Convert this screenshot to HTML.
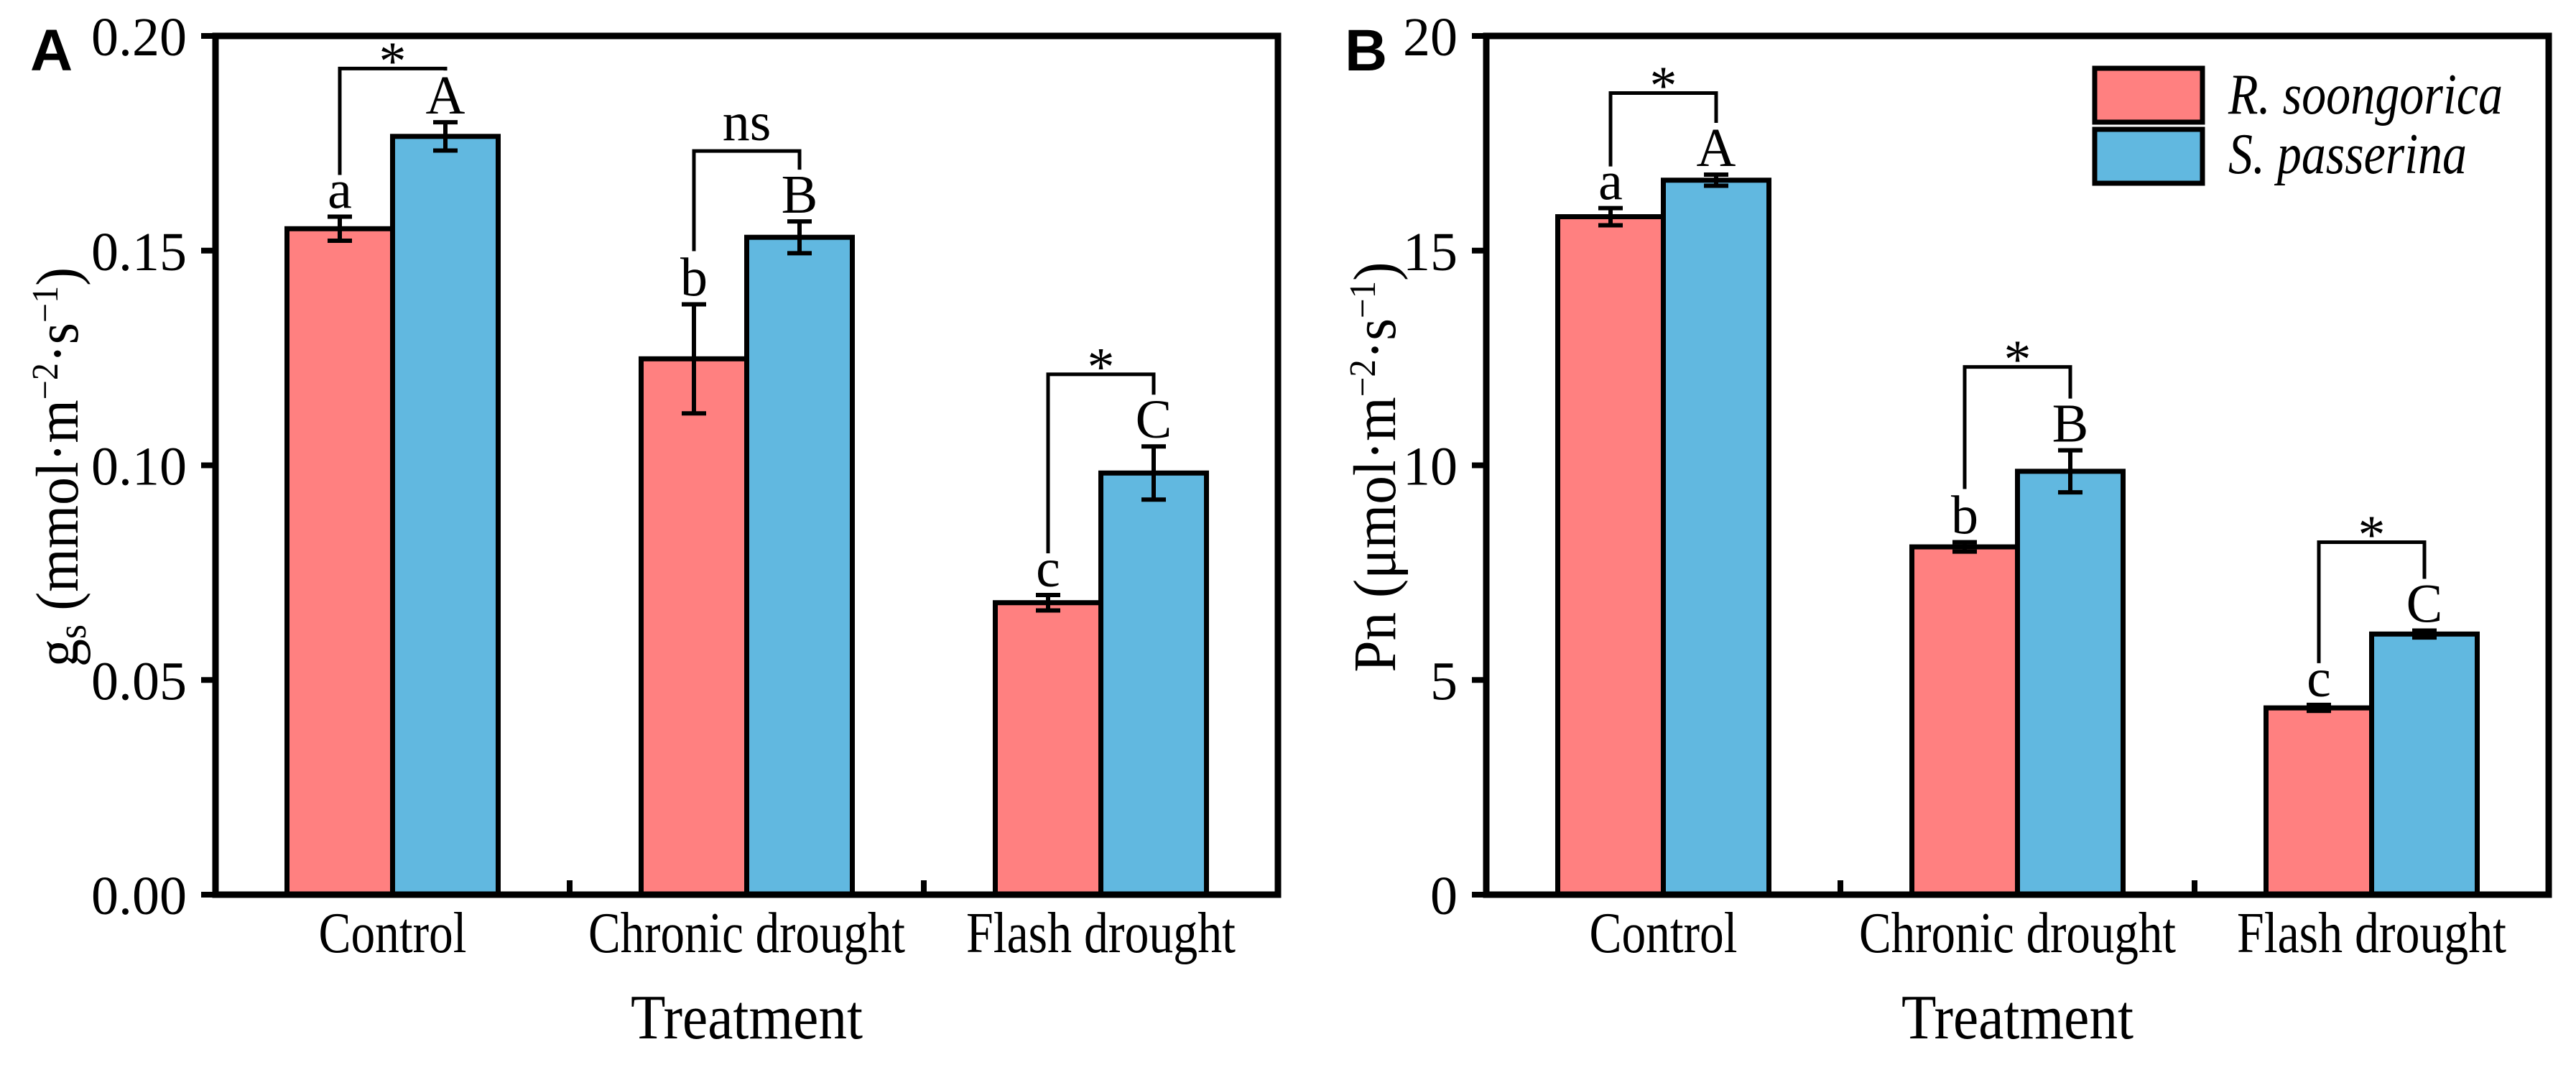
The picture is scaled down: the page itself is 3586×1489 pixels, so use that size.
<!DOCTYPE html>
<html><head><meta charset="utf-8"><style>
html,body{margin:0;padding:0;background:#fff;}
svg text{font-family:"Liberation Serif",serif;fill:#000;}
</style></head><body>
<svg id="fig" width="3586" height="1484" viewBox="0 0 3586 1484" xmlns="http://www.w3.org/2000/svg">
<rect width="3586" height="1484" fill="#fff"/>
</svg>
<script>
const categories = ["Control", "Chronic drought", "Flash drought"];
const seriesNames = ["R. soongorica", "S. passerina"];
// Panel A: gs
const gsRed = [0.1551, 0.1248, 0.0680];
const gsRedErr = [0.0028, 0.0127, 0.0018];
const gsBlue = [0.1766, 0.1531, 0.0982];
const gsBlueErr = [0.0033, 0.0037, 0.0062];
const gsRedLetters = ["a", "b", "c"];
const gsBlueLetters = ["A", "B", "C"];
const gsSig = ["*", "ns", "*"];
const gsSigTop = [0.1924, 0.1732, 0.1212];
const gsTicks = [0, 0.05, 0.10, 0.15, 0.20];
const gsTickLabels = ["0.00", "0.05", "0.10", "0.15", "0.20"];
// Panel B: Pn
const pnRed = [15.79, 8.10, 4.35];
const pnRedErr = [0.20, 0.11, 0.07];
const pnBlue = [16.64, 9.86, 6.07];
const pnBlueErr = [0.13, 0.49, 0.08];
const pnRedLetters = ["a", "b", "c"];
const pnBlueLetters = ["A", "B", "C"];
const pnSig = ["*", "*", "*"];
const pnSigTop = [18.67, 12.29, 8.21];
const pnTicks = [0, 5, 10, 15, 20];
const pnTickLabels = ["0", "5", "10", "15", "20"];

const NS = "http://www.w3.org/2000/svg";
const svg = document.getElementById("fig");
const RED = "#FF8080", BLUE = "#61B8E0";
function mk(tag, attrs, parent, txt) {
  const e = document.createElementNS(NS, tag);
  for (const k in attrs) e.setAttribute(k, attrs[k]);
  if (txt !== undefined) e.textContent = txt;
  (parent || svg).appendChild(e);
  return e;
}

function panel(p) {
  const L = p.x0, R = p.x0 + 1479, T = 50, B = 1245;
  const y = v => B - (v - p.ymin) / (p.ymax - p.ymin) * (B - T);
  const gw = (R - L) / 3;
  const gx = i => L + gw * (i + 0.5);
  const bw = 147;
  const g = mk("g", {});
  
  

  for (let i = 0; i < 3; i++) {
    [[p.red, p.redErr, RED, -1, p.redL, 'red'], [p.blue, p.blueErr, BLUE, 0, p.blueL, 'blue']].forEach(s => {
      const v = s[0][i], e = s[1][i];
      const x = gx(i) + s[3] * bw;
      const r = mk("rect", {x: x, y: y(v), width: bw, height: B - y(v), fill: s[2], stroke: "#000", "stroke-width": 7}, g);
      
      
      const cx = x + bw / 2;
      const eg = mk("g", {stroke: "#000", "stroke-width": 6}, g);
      
      
      mk("line", {x1: cx, x2: cx, y1: y(v + e), y2: y(v - e)}, eg);
      mk("line", {x1: cx - 17, x2: cx + 17, y1: y(v + e), y2: y(v + e)}, eg);
      mk("line", {x1: cx - 17, x2: cx + 17, y1: y(v - e), y2: y(v - e)}, eg);
      const lt = mk("text", {x: cx, y: y(v + e) - 12, "text-anchor": "middle", "font-size": 76}, g, s[4][i]);
      
      
    });
    const rx = gx(i) - bw / 2, bx = gx(i) + bw / 2;
    const rBase = y(p.red[i] + p.redErr[i]) - 12;
    const bBase = y(p.blue[i] + p.blueErr[i]) - 12;
    const lowerTall = p.redL[i] === "b";
    const yl = rBase - (lowerTall ? 62 : 46);
    const yr = bBase - 60;
    const top = y(p.sigTop[i]);
    const br = mk("polyline", {points: `${rx},${yl} ${rx},${top} ${bx},${top} ${bx},${yr}`, fill: "none", stroke: "#000", "stroke-width": 5}, g);
    
    
    const st = mk("text", {x: gx(i), y: p.sig[i] === "ns" ? top - 15 : top + 15, "text-anchor": "middle", "font-size": 76}, g, p.sig[i]);
    
    
    const cl = mk("text", {x: gx(i), y: 1325, "text-anchor": "middle", "font-size": 80, textLength: p.catW[i], lengthAdjust: "spacingAndGlyphs"}, g, categories[i]);
    
    
  }
  for (let k = 1; k < 3; k++) {
    mk("line", {x1: L + gw * k, x2: L + gw * k, y1: B, y2: B - 20, stroke: "#000", "stroke-width": 8}, g);
  }
  p.ticks.forEach((t, k) => {
    mk("line", {x1: L - 20, x2: L, y1: y(t), y2: y(t), stroke: "#000", "stroke-width": 8}, g);
    const tl = mk("text", {x: L - 40, y: y(t) + 27, "text-anchor": "end", "font-size": 76}, g, p.tickLabels[k]);
    
    
  });
  const fr = mk("rect", {x: L, y: T, width: R - L, height: B - T, fill: "none", stroke: "#000", "stroke-width": 9}, g);
  
  
  const xt = mk("text", {x: (L + R) / 2, y: 1445, "text-anchor": "middle", "font-size": 88, textLength: 323, lengthAdjust: "spacingAndGlyphs"}, g, "Treatment");
  
  
  const yt = mk("text", {x: 0, y: 0, "text-anchor": "middle", "font-size": 84, transform: `translate(${p.ytx},650) rotate(-90)`, textLength: p.ytW, lengthAdjust: "spacingAndGlyphs"}, g);
  
  
  mk("tspan", {}, yt, p.yt1);
  if (p.ytSub) mk("tspan", {"baseline-shift": "-20%", "font-size": 56}, yt, p.ytSub);
  mk("tspan", {}, yt, p.yt2);
  mk("tspan", {"baseline-shift": "super", "font-size": 52}, yt, "−2");
  mk("tspan", {}, yt, "·s");
  mk("tspan", {"baseline-shift": "super", "font-size": 52}, yt, "−1");
  mk("tspan", {}, yt, ")");
  const pl = mk("text", {x: p.lx, y: 98, "font-size": 82, "font-weight": "bold", style: "font-family:'Liberation Sans',sans-serif"}, g, p.letter);
  
  
}

panel({name: "panel-a-gs", x0: 300, ymin: 0, ymax: 0.20, red: gsRed, redErr: gsRedErr, blue: gsBlue, blueErr: gsBlueErr,
  redL: gsRedLetters, blueL: gsBlueLetters, sig: gsSig, sigTop: gsSigTop, ticks: gsTicks, tickLabels: gsTickLabels,
  catW: [206, 441, 375], ytx: 108, ytW: 556, yt1: "g", ytSub: "s", yt2: " (mmol·m", lx: 42, letter: "A"});
panel({name: "panel-b-pn", x0: 2069, ymin: 0, ymax: 20, red: pnRed, redErr: pnRedErr, blue: pnBlue, blueErr: pnBlueErr,
  redL: pnRedLetters, blueL: pnBlueLetters, sig: pnSig, sigTop: pnSigTop, ticks: pnTicks, tickLabels: pnTickLabels,
  catW: [206, 441, 375], ytx: 1942, ytW: 571, yt1: "Pn (μmol·m", ytSub: null, yt2: "", lx: 1872, letter: "B"});

const lg = mk("g", {});


[[RED, 95, 170, 158, 382], [BLUE, 180, 255, 241, 332]].forEach((d, i) => {
  const r = mk("rect", {x: 2916, y: d[1], width: 150, height: d[2] - d[1], fill: d[0], stroke: "#000", "stroke-width": 7}, lg);
  
  
  const t = mk("text", {x: 3102, y: d[3], "font-size": 80, "font-style": "italic", textLength: d[4], lengthAdjust: "spacingAndGlyphs"}, lg, seriesNames[i]);
  
  
});
</script>
</body></html>
